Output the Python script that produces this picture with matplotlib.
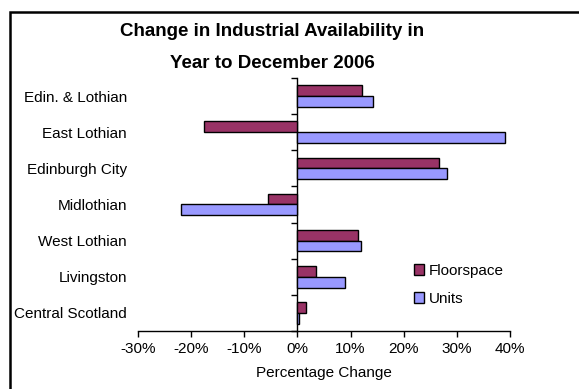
import matplotlib.pyplot as plt
from matplotlib.patches import Rectangle
from matplotlib.ticker import FixedLocator, PercentFormatter
import numpy as np

categories = ["Edin. & Lothian", "East Lothian", "Edinburgh City", "Midlothian",
              "West Lothian", "Livingston", "Central Scotland"]
floorspace = [12.2, -17.6, 26.6, -5.6, 11.4, 3.5, 1.6]
units = [14.3, 39.0, 28.1, -22.0, 11.9, 8.9, 0.3]

plt.rcParams.update({
    "font.family": ["Liberation Sans", "DejaVu Sans"],
    "font.size": 11,
    "axes.unicode_minus": False,
})

FLOOR_COLOR = "#993366"
UNITS_COLOR = "#9999ff"

W, H = 579, 389
fig = plt.figure(figsize=(W / 100, H / 100), dpi=100)
ax = fig.add_axes([138 / W, 1 - 331 / H, (510 - 138) / W, (331 - 78) / H])

y = np.arange(len(categories))
bh = 0.3
ax.barh(y - bh / 2, floorspace, height=bh, color=FLOOR_COLOR,
        edgecolor="black", lw=1, label="Floorspace")
ax.barh(y + bh / 2, units, height=bh, color=UNITS_COLOR,
        edgecolor="black", lw=1, label="Units")

ax.set_xlim(-30, 40)
ax.set_ylim(len(categories) - 0.5, -0.5)
ax.set_xticks(np.arange(-30, 41, 10))
ax.xaxis.set_major_formatter(PercentFormatter(decimals=0))
ax.tick_params(axis="x", length=4, width=1, pad=4, labelsize=11)

ax.set_yticks(y)
ax.set_yticklabels(categories)
ax.tick_params(axis="y", length=0, pad=8, labelsize=11)

for s in ["top", "right", "left"]:
    ax.spines[s].set_visible(False)
ax.spines["bottom"].set_linewidth(1)

# vertical axis through 0% with marks between the categories
sec = ax.secondary_yaxis(3 / 7)
sec.set_yticks([])
sec.yaxis.set_minor_locator(FixedLocator(np.arange(len(categories) + 1) - 0.5))
sec.tick_params(which="minor", length=4, width=1, direction="out")
sec.spines["left"].set_linewidth(1)

ax.set_xlabel("Percentage Change", fontsize=11, labelpad=7)

fig.text(272 / W, 1 - 31 / H, "Change in Industrial Availability in",
         ha="center", va="center", fontsize=13.5, fontweight="bold")
fig.text(272 / W, 1 - 64 / H, "Year to December 2006",
         ha="center", va="center", fontsize=13.5, fontweight="bold")

ax.legend(loc="upper left", bbox_to_anchor=(406 / W, 1 - 256 / H),
          bbox_transform=fig.transFigure, frameon=False, fontsize=11,
          handlelength=0.7, handleheight=0.7, handletextpad=0.3,
          labelspacing=0.95, borderpad=0)

fig.patches.append(Rectangle((10 / W, -0.05), 1.0, 1 - 12 / H + 0.05,
                             transform=fig.transFigure, fill=False,
                             edgecolor="black", lw=1.8))

fig.savefig("out.png", dpi=100)
